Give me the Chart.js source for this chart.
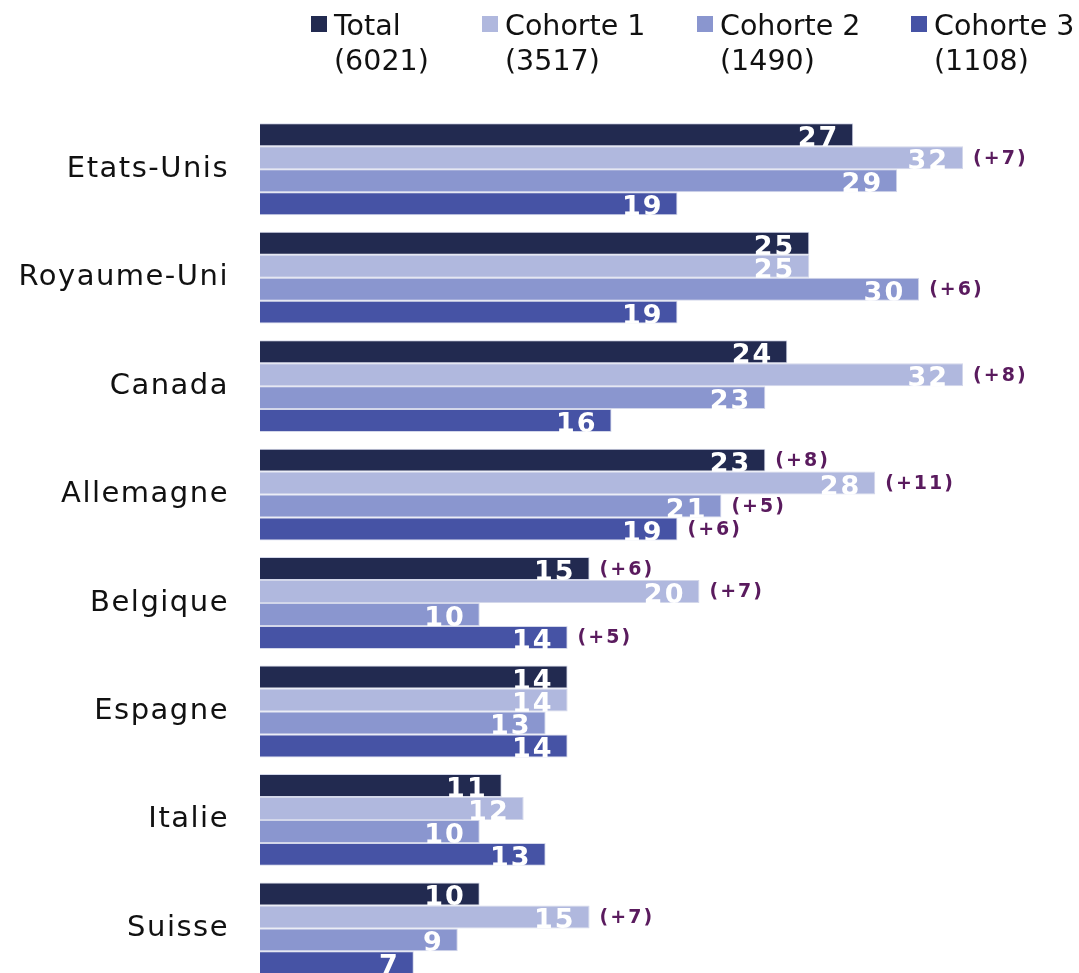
<!DOCTYPE html>
<html lang="fr">
<head>
    <meta charset="UTF-8">
    <title>Pays - cohortes</title>
    <script src="https://cdn.jsdelivr.net/npm/chart.js"></script>
    <style>
        body {
            margin: 0;
            overflow: hidden;
            background: #ffffff;
        }
    </style>
</head>
<body>

    <canvas id="countryChart" width="1079" height="1031"></canvas>

    <script>
        // Data
        const categories = ["Etats-Unis", "Royaume-Uni", "Canada", "Allemagne", "Belgique", "Espagne", "Italie", "Suisse"];
        const seriesNames = ["Total", "Cohorte 1", "Cohorte 2", "Cohorte 3"];
        const seriesCounts = ["(6021)", "(3517)", "(1490)", "(1108)"];

        const totalValues = [27, 25, 24, 23, 15, 14, 11, 10];
        const cohorte1Values = [32, 25, 32, 28, 20, 14, 12, 15];
        const cohorte2Values = [29, 30, 23, 21, 10, 13, 10, 9];
        const cohorte3Values = [19, 19, 16, 19, 14, 14, 13, 7];

        // evolution notes shown next to some bars
        const totalNotes = [null, null, null, "(+8)", "(+6)", null, null, null];
        const cohorte1Notes = ["(+7)", null, "(+8)", "(+11)", "(+7)", null, null, "(+7)"];
        const cohorte2Notes = [null, "(+6)", null, "(+5)", null, null, null, null];
        const cohorte3Notes = [null, null, null, "(+6)", "(+5)", null, null, null];

        const colors = ["#222a50", "#b0b8de", "#8a96cf", "#4653a5"];
        const allValues = [totalValues, cohorte1Values, cohorte2Values, cohorte3Values];
        const allNotes = [totalNotes, cohorte1Notes, cohorte2Notes, cohorte3Notes];

        const FONT = "'DejaVu Sans', Verdana, sans-serif";
        const legendX = [311, 482, 697, 911];

        // custom two-line legend at the top
        const legendPlugin = {
            id: "twoLineLegend",
            afterDraw(chart) {
                const ctx = chart.ctx;
                ctx.save();
                ctx.letterSpacing = "0px";
                ctx.font = "28.5px " + FONT;
                ctx.textAlign = "left";
                ctx.textBaseline = "alphabetic";
                seriesNames.forEach((name, i) => {
                    const x = legendX[i];
                    ctx.fillStyle = colors[i];
                    ctx.fillRect(x, 16, 16, 16);
                    ctx.fillStyle = "#111111";
                    ctx.fillText(name, x + 23, 35);
                    ctx.fillText(seriesCounts[i], x + 23, 70);
                });
                ctx.restore();
            }
        };

        // white values inside bar ends, clipped to the bar like the original
        const valueLabels = {
            id: "valueLabels",
            beforeDraw(chart) {
                chart.ctx.letterSpacing = "1.5px";
            },
            afterDatasetsDraw(chart) {
                const ctx = chart.ctx;
                chart.data.datasets.forEach((ds, di) => {
                    const meta = chart.getDatasetMeta(di);
                    meta.data.forEach((bar, i) => {
                        const top = bar.y - bar.height / 2;
                        ctx.save();
                        ctx.beginPath();
                        ctx.rect(bar.base, top, bar.x - bar.base, bar.height);
                        ctx.clip();
                        ctx.letterSpacing = "2px";
                        ctx.font = "bold 27px " + FONT;
                        ctx.fillStyle = "#ffffff";
                        ctx.textAlign = "right";
                        ctx.textBaseline = "alphabetic";
                        ctx.fillText(String(ds.data[i]), bar.x - 14, top + 23);
                        ctx.restore();

                        const note = allNotes[di][i];
                        if (note) {
                            ctx.save();
                            ctx.letterSpacing = "2px";
                            ctx.font = "bold 19px " + FONT;
                            ctx.fillStyle = "#5a1b5e";
                            ctx.textAlign = "left";
                            ctx.textBaseline = "middle";
                            ctx.fillText(note, bar.x + 10, bar.y + 1);
                            ctx.restore();
                        }
                    });
                });
            }
        };

        const ctx = document.getElementById("countryChart").getContext("2d");
        new Chart(ctx, {
            type: "bar",
            data: {
                labels: categories,
                datasets: seriesNames.map((name, i) => ({
                    label: name,
                    data: allValues[i],
                    backgroundColor: colors[i],
                    borderColor: "#d3d7ea",
                    borderWidth: 1,
                    barPercentage: 1.0,
                    categoryPercentage: 0.847
                }))
            },
            options: {
                indexAxis: "y",
                responsive: false,
                animation: false,
                layout: {
                    padding: { top: 115, right: 28, bottom: 7, left: 0 }
                },
                scales: {
                    x: {
                        display: false,
                        min: 0,
                        max: 36
                    },
                    y: {
                        afterFit(scale) { scale.width = 260; },
                        grid: { display: false, drawTicks: false },
                        border: { display: false },
                        ticks: {
                            padding: 31,
                            color: "#111111",
                            font: { family: FONT, size: 29 }
                        }
                    }
                },
                plugins: {
                    legend: { display: false },
                    tooltip: { enabled: false }
                }
            },
            plugins: [legendPlugin, valueLabels]
        });
    </script>

</body>
</html>
